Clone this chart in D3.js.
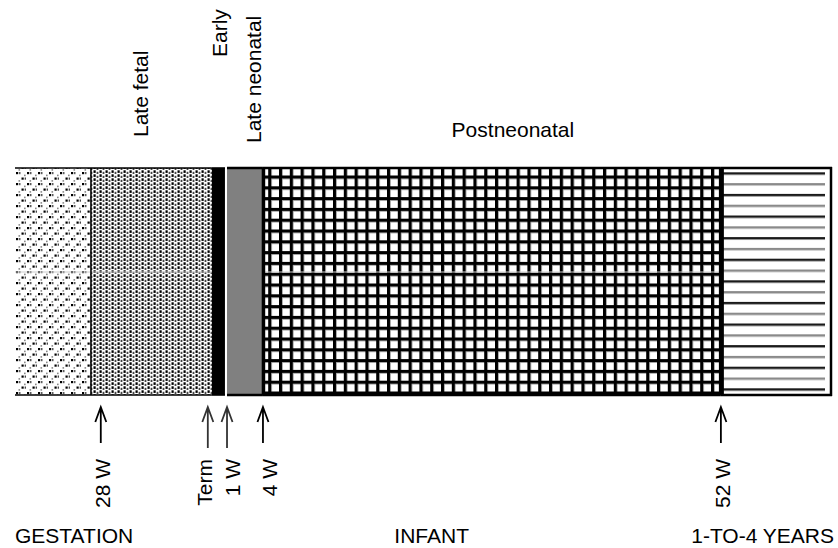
<!DOCTYPE html>
<html lang="en">
<head>
  <meta charset="UTF-8">
  <title>Periods of life: gestation, infant, 1-to-4 years</title>
  <style>
    body { margin: 0; background: #fff; }
    svg { display: block; font-family: "Liberation Sans", Arial, sans-serif; }
  </style>
</head>
<body>
  <div id="chart"></div>
  <script src="https://d3js.org/d3.v7.min.js"></script>
  <script>

    // timeline in percent of the bar length (not linear in time)
    const periods     = ["Gestation", "Late fetal", "Early neonatal", "Birth", "Late neonatal", "Postneonatal", "1-to-4 years"];
    const periodStart = [0,    9.3,  24.1, 25.7,  25.95, 30.35, 86.4];
    const periodEnd   = [9.3,  24.1, 25.7, 25.95, 30.35, 86.4,  100];

    // labels above the bar
    const phaseLabels = ["Late fetal", "Early", "Late neonatal"];
    const phasePos    = [16.3, 25.9, 30.1];

    // arrows under the bar
    const markerLabels = ["28 W", "Term", "1 W", "4 W", "52 W"];
    const markerPos    = [10.5, 23.6, 25.95, 30.35, 86.4];
    const markerText   = [11.6, 24.1, 27.55, 32.1, 87.5];

    // stage names at the bottom
    const stages   = ["GESTATION", "INFANT", "1-TO-4 YEARS"];
    const stagePos = [0, 51.0, 100.25];

    const width = 838,
          height = 548,
          band = {top: 168, bottom: 395};

    const x = d3.scaleLinear([0, 100], [15, 832]);

    const svg = d3.select("#chart")
      .append("svg")
      .attr("width", width)
      .attr("height", height);

    const defs = svg.append("defs");

    // sparse dots
    let p = defs.append("pattern").attr("id", "dotsSparse")
      .attr("patternUnits", "userSpaceOnUse")
      .attr("x", 16).attr("y", 172).attr("width", 11).attr("height", 11);
    p.append("rect").attr("x", 0).attr("y", 0).attr("width", 2.2).attr("height", 2.2).attr("fill", "#000");
    p.append("rect").attr("x", 5.5).attr("y", 5.5).attr("width", 2.2).attr("height", 2.2).attr("fill", "#000");
    p.append("rect").attr("x", 3.2).attr("y", 0).attr("width", 1.2).attr("height", 2.2).attr("fill", "#333");
    p.append("rect").attr("x", 8.7).attr("y", 5.5).attr("width", 1.2).attr("height", 2.2).attr("fill", "#333");
    p.append("rect").attr("x", 8).attr("y", 2.6).attr("width", 1.6).attr("height", 1.6).attr("fill", "#888");
    p.append("rect").attr("x", 2.5).attr("y", 8.1).attr("width", 1.6).attr("height", 1.6).attr("fill", "#888");

    // dense dots in columns
    p = defs.append("pattern").attr("id", "dotsDense")
      .attr("patternUnits", "userSpaceOnUse")
      .attr("x", 93).attr("y", 170).attr("width", 6).attr("height", 4);
    p.append("rect").attr("x", 0.5).attr("y", 0.3).attr("width", 2.2).attr("height", 2.6).attr("fill", "#000");
    p.append("rect").attr("x", 3.6).attr("y", 1.8).attr("width", 1.8).attr("height", 2.2).attr("fill", "#444");

    // grid
    p = defs.append("pattern").attr("id", "grid")
      .attr("patternUnits", "userSpaceOnUse")
      .attr("x", 279).attr("y", 175.5).attr("width", 10.8).attr("height", 10.8);
    p.append("rect").attr("width", 10.8).attr("height", 10.8).attr("fill", "#fff");
    p.append("rect").attr("x", 0).attr("y", 0).attr("width", 3).attr("height", 10.8).attr("fill", "#000");
    p.append("rect").attr("x", 0).attr("y", 0).attr("width", 10.8).attr("height", 3).attr("fill", "#000");
    p.append("rect").attr("x", 3).attr("y", 3).attr("width", 0.8).attr("height", 7.8).attr("fill", "#999");
    p.append("rect").attr("x", 3).attr("y", 3).attr("width", 7.8).attr("height", 0.8).attr("fill", "#999");

    // horizontal lines
    p = defs.append("pattern").attr("id", "hlines")
      .attr("patternUnits", "userSpaceOnUse")
      .attr("x", 0).attr("y", 172.3).attr("width", 20).attr("height", 21.6);
    p.append("rect").attr("width", 20).attr("height", 21.6).attr("fill", "#fff");
    p.append("rect").attr("y", 0).attr("width", 20).attr("height", 2.4).attr("fill", "#1a1a1a");
    p.append("rect").attr("y", 10.8).attr("width", 20).attr("height", 2.4).attr("fill", "#8a8a8a");

    const fills = ["url(#dotsSparse)", "url(#dotsDense)", "#000", "#fff", "#808080", "url(#grid)", "url(#hlines)"];

    // period boxes
    svg.append("g")
      .selectAll("rect")
      .data(periods)
      .join("rect")
      .attr("x", (d, i) => x(periodStart[i]))
      .attr("y", band.top)
      .attr("width", (d, i) => x(periodEnd[i]) - x(periodStart[i]))
      .attr("height", band.bottom - band.top)
      .attr("fill", (d, i) => fills[i]);

    // white inset of the 1-to-4 box, lines do not touch its right border
    svg.append("rect")
      .attr("x", x(periodEnd[6]) - 7)
      .attr("y", band.top)
      .attr("width", 6)
      .attr("height", band.bottom - band.top)
      .attr("fill", "#fff");

    // faint scan line across the middle of the patterned boxes
    svg.append("g")
      .selectAll("line")
      .data([0, 1, 5])
      .join("line")
      .attr("x1", i => x(periodStart[i])).attr("x2", i => x(periodEnd[i]))
      .attr("y1", 272).attr("y2", 272)
      .attr("stroke", "#ccc").attr("stroke-width", 1);

    // top and bottom edges (no edge over the birth gap)
    const edges = svg.append("g").attr("stroke", "#000").attr("fill", "none");
    periods.forEach((d, i) => {
      if (d === "Birth") return;
      [band.top, band.bottom].forEach(yy => {
        edges.append("line")
          .attr("x1", x(periodStart[i])).attr("x2", x(periodEnd[i]))
          .attr("y1", yy).attr("y2", yy)
          .attr("stroke-width", i >= 4 ? 2.5 : 1.6);
      });
    });

    // late fetal box side
    edges.append("line")
      .attr("x1", x(periodStart[1])).attr("x2", x(periodStart[1]))
      .attr("y1", band.top).attr("y2", band.bottom)
      .attr("stroke-width", 1.6);

    // right edge of the whole bar
    edges.append("line")
      .attr("x1", x(periodEnd[6]) - 1).attr("x2", x(periodEnd[6]) - 1)
      .attr("y1", band.top - 1).attr("y2", band.bottom + 1)
      .attr("stroke-width", 2.5);

    // thick boundaries at 4 W and 52 W
    edges.append("line")
      .attr("x1", x(markerPos[3]) + 0.5).attr("x2", x(markerPos[3]) + 0.5)
      .attr("y1", band.top).attr("y2", band.bottom)
      .attr("stroke-width", 3.5);
    edges.append("line")
      .attr("x1", x(markerPos[4]) + 0.5).attr("x2", x(markerPos[4]) + 0.5)
      .attr("y1", band.top).attr("y2", band.bottom)
      .attr("stroke-width", 5);

    // labels over the bar (rotated)
    const phaseBase = [137, 57, 143];
    svg.append("g")
      .selectAll("text")
      .data(phaseLabels)
      .join("text")
      .attr("transform", (d, i) => `translate(${x(phasePos[i])},${phaseBase[i]}) rotate(-90)`)
      .attr("text-anchor", "start")
      .style("font-size", "21px")
      .text(d => d);

    svg.append("text")
      .attr("x", (x(periodStart[5]) + x(periodEnd[5])) / 2 + 21)
      .attr("y", 137)
      .attr("text-anchor", "middle")
      .style("font-size", "21px")
      .text("Postneonatal");

    // arrows
    const arrows = svg.append("g")
      .attr("stroke", "#000")
      .attr("stroke-width", 1.8)
      .attr("fill", "none");
    arrows.selectAll("path")
      .data(markerLabels)
      .join("path")
      .attr("stroke", (d, i) => (i === 1 || i === 2) ? "#333" : "#000")
      .attr("d", (d, i) => {
        const ax = x(markerPos[i]);
        const bottom = (i === 1 || i === 2) ? 448 : 443;
        return `M${ax},${bottom}V407M${ax - 5.5},422L${ax},407L${ax + 5.5},422`;
      });

    svg.append("g")
      .selectAll("text")
      .data(markerLabels)
      .join("text")
      .attr("transform", (d, i) => `translate(${x(markerText[i])},459) rotate(-90)`)
      .attr("text-anchor", "end")
      .style("font-size", "21px")
      .text(d => d);

    // stage names
    svg.append("g")
      .selectAll("text")
      .data(stages)
      .join("text")
      .attr("x", (d, i) => x(stagePos[i]))
      .attr("y", 543)
      .attr("text-anchor", (d, i) => ["start", "middle", "end"][i])
      .style("font-size", "21px")
      .text(d => d);

  </script>
</body>
</html>
